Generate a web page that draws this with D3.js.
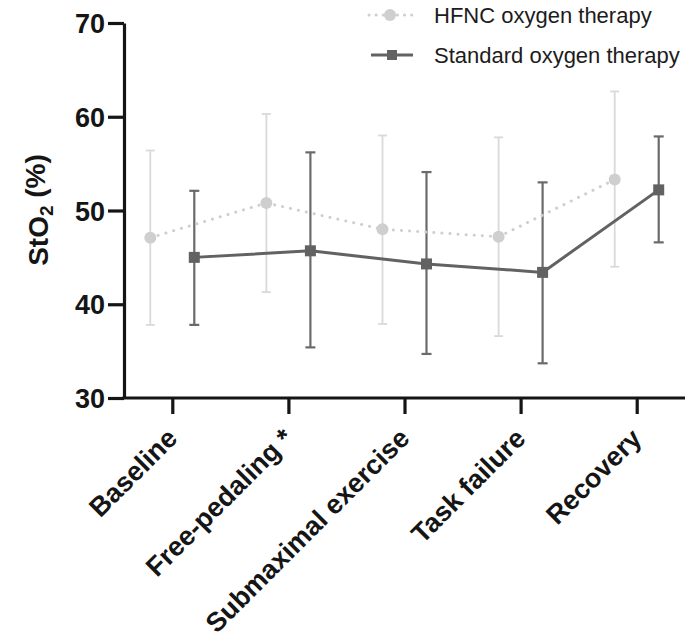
<!DOCTYPE html>
<html>
<head>
<meta charset="utf-8">
<script src="https://cdn.jsdelivr.net/npm/d3@7/dist/d3.min.js"></script>
<style>
  html, body { margin: 0; padding: 0; background: #fff; }
  svg { display: block; font-family: "Liberation Sans", Arial, Helvetica, sans-serif; }
</style>
</head>
<body>
<svg id="chart" width="692" height="641"></svg>
<script>
// Tissue oxygen saturation by exercise phase (mean ± SD)
const phases = ["Baseline", "Free-pedaling *", "Submaximal exercise", "Task failure", "Recovery"];

const hfncMean  = [47.1, 50.8, 48.0, 47.2, 53.3];
const hfncUpper = [56.4, 60.3, 58.0, 57.8, 62.7];
const hfncLower = [37.8, 41.3, 37.9, 36.6, 44.0];

const stdMean  = [45.0, 45.7, 44.3, 43.4, 52.2];
const stdUpper = [52.1, 56.2, 54.1, 53.0, 57.9];
const stdLower = [37.8, 35.4, 34.7, 33.7, 46.6];

const yTicks = [30, 40, 50, 60, 70];
const seriesNames = ["HFNC oxygen therapy", "Standard oxygen therapy"];

const svg = d3.select("#chart");

const x = d3.scalePoint().domain(phases).range([124, 685]).padding(0.416);
const y = d3.scaleLinear().domain([30, 70]).range([398, 23]);

const lightCol = "#cfcfcf";
const lightBar = "#d9d9d9";
const darkCol = "#626262";
const darkBar = "#6a6a6a";
const axisCol = "#151515";
const offset = 22;

// y axis
const yAxis = svg.append("g")
  .attr("transform", "translate(124,0)")
  .call(d3.axisLeft(y).tickValues(yTicks).tickSize(16).tickSizeOuter(0).tickPadding(3));
yAxis.select(".domain").attr("stroke", axisCol).attr("stroke-width", 3.2);
yAxis.selectAll(".tick line").attr("stroke", axisCol).attr("stroke-width", 3.2);
yAxis.selectAll(".tick text")
  .attr("fill", axisCol)
  .style("font-size", "27px").style("font-weight", "bold")
  .style("font-family", "'Liberation Sans', Arial, sans-serif")
  .attr("dy", "0.36em");

// x axis
const xAxis = svg.append("g")
  .attr("transform", "translate(0,398)")
  .call(d3.axisBottom(x).tickSize(16).tickSizeOuter(0));
xAxis.select(".domain").attr("stroke", axisCol).attr("stroke-width", 3.2)
  .attr("d", "M122.4,0H685");
xAxis.selectAll(".tick line").attr("stroke", axisCol).attr("stroke-width", 3.2);
xAxis.selectAll(".tick text")
  .attr("fill", axisCol)
  .style("font-size", "27px").style("font-weight", "bold")
  .style("font-family", "'Liberation Sans', Arial, sans-serif")
  .attr("text-anchor", "end")
  .attr("x", 0).attr("y", 0).attr("dy", 0)
  .attr("transform", "translate(6,42) rotate(-45)");

// y axis title
const yTitle = svg.append("text")
  .attr("transform", "translate(48,210) rotate(-90)")
  .attr("text-anchor", "middle")
  .attr("fill", axisCol)
  .style("font-size", "28px").style("font-weight", "bold");
yTitle.append("tspan").text("StO");
yTitle.append("tspan").attr("dy", "0.28em").style("font-size", "19px").text("2");
yTitle.append("tspan").attr("dy", "-0.28em").text(" (%)");

const hfnc = phases.map((p, i) => ({ p, m: hfncMean[i], lo: hfncLower[i], hi: hfncUpper[i] }));
const std  = phases.map((p, i) => ({ p, m: stdMean[i],  lo: stdLower[i],  hi: stdUpper[i] }));

function errorBars(data, dx, color, width, cap) {
  const g = svg.append("g").attr("stroke", color).attr("stroke-width", width).attr("fill", "none");
  data.forEach(d => {
    const cx = x(d.p) + dx;
    g.append("line").attr("x1", cx).attr("x2", cx).attr("y1", y(d.hi)).attr("y2", y(d.lo));
    g.append("line").attr("x1", cx - cap).attr("x2", cx + cap).attr("y1", y(d.hi)).attr("y2", y(d.hi));
    g.append("line").attr("x1", cx - cap).attr("x2", cx + cap).attr("y1", y(d.lo)).attr("y2", y(d.lo));
  });
}

errorBars(hfnc, -offset, lightBar, 1.8, 4.5);
errorBars(std, offset, darkBar, 2.2, 5);

const line = dx => d3.line().x(d => x(d.p) + dx).y(d => y(d.m));

// HFNC: dotted line with circles
svg.append("path").datum(hfnc)
  .attr("d", line(-offset))
  .attr("fill", "none").attr("stroke", lightCol).attr("stroke-width", 3)
  .attr("stroke-linecap", "round").attr("stroke-dasharray", "0.1 8");

svg.append("g").selectAll("circle").data(hfnc).join("circle")
  .attr("cx", d => x(d.p) - offset).attr("cy", d => y(d.m)).attr("r", 6)
  .attr("fill", lightCol);

// Standard: solid line with squares
svg.append("path").datum(std)
  .attr("d", line(offset))
  .attr("fill", "none").attr("stroke", darkCol).attr("stroke-width", 3);

svg.append("g").selectAll("rect").data(std).join("rect")
  .attr("x", d => x(d.p) + offset - 5.5).attr("y", d => y(d.m) - 5.5)
  .attr("width", 11).attr("height", 11)
  .attr("fill", darkCol);

// legend
const legend = svg.append("g");
legend.append("line").attr("x1", 369).attr("x2", 412).attr("y1", 15).attr("y2", 15)
  .attr("stroke", lightCol).attr("stroke-width", 3).attr("stroke-linecap", "round")
  .attr("stroke-dasharray", "0.1 7");
legend.append("circle").attr("cx", 390).attr("cy", 15).attr("r", 6).attr("fill", lightCol);
legend.append("line").attr("x1", 371).attr("x2", 413).attr("y1", 55).attr("y2", 55)
  .attr("stroke", darkCol).attr("stroke-width", 3);
legend.append("rect").attr("x", 387).attr("y", 50).attr("width", 10).attr("height", 10).attr("fill", darkCol);
legend.selectAll("text").data(seriesNames).join("text")
  .attr("x", 434).attr("y", (d, i) => 15 + i * 40).attr("dy", "0.36em")
  .attr("fill", "#1c1c1c")
  .style("font-size", "22px")
  .text(d => d);
</script>
</body>
</html>
